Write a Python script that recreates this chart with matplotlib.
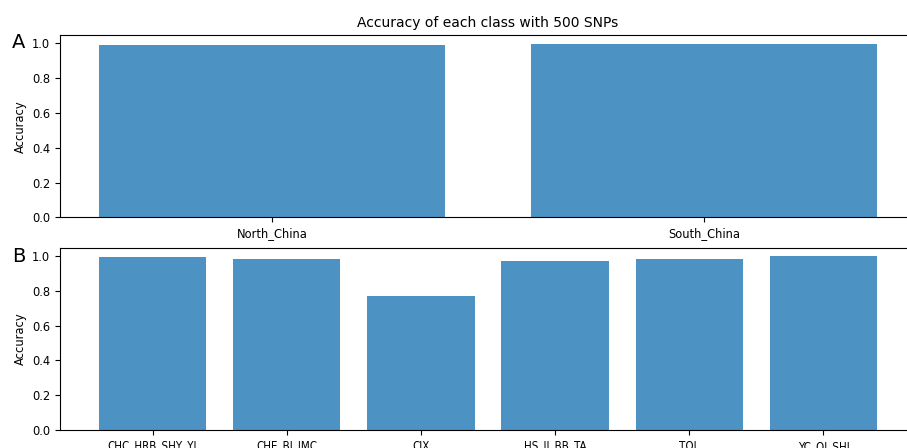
import matplotlib.pyplot as plt

# accuracy per class, 500 SNPs
regions = ["North_China", "South_China"]
region_acc = [0.990, 0.998]

groups = ["CHC_HRB_SHY_YJ", "CHE_BJ_IMC", "CIX", "HS_JI_BB_TA", "TOL", "YC_QI_SHI"]
group_acc = [0.993, 0.983, 0.770, 0.972, 0.982, 0.999]

plt.rcParams["font.size"] = 8.3
bar_color = "#1f77b4"

fig, (ax1, ax2) = plt.subplots(2, 1, figsize=(9.07, 4.48), dpi=100)
fig.subplots_adjust(left=60 / 907, right=916 / 907, top=1 - 35 / 448,
                    bottom=1 - 430 / 448, hspace=0.165)

ax1.bar(regions, region_acc, width=0.8, color=bar_color, alpha=0.8)
ax1.set_ylabel("Accuracy")
ax1.set_title("Accuracy of each class with 500 SNPs")

ax2.bar(groups, group_acc, width=0.8, color=bar_color, alpha=0.8)
ax2.set_ylabel("Accuracy")
for lbl in ax2.get_xticklabels():
    lbl.set_fontstretch("condensed")

fig.text(12 / 907, 1 - 43 / 448, "A", fontsize=14, va="center")
fig.text(12 / 907, 1 - 256 / 448, "B", fontsize=14, va="center")

fig.savefig("out.png", dpi=100)
